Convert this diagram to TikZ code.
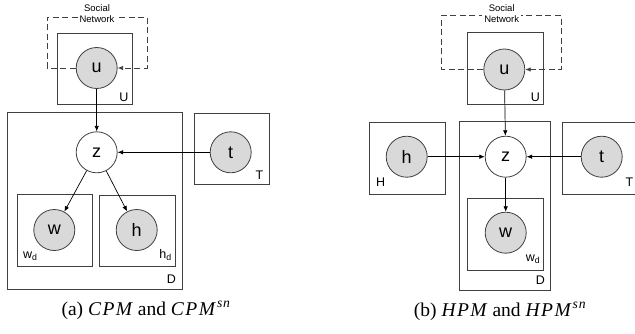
\documentclass[tikz,border=0pt]{standalone}
\usepackage{fontspec}
\setmainfont{Liberation Serif}
\newfontfamily\arialf{Liberation Sans}
\usetikzlibrary{arrows.meta}
\definecolor{lin}{HTML}{404040}
\definecolor{fil}{HTML}{D9D9D9}
\newcommand{\mitx}[1]{\textit{#1}}
\tikzset{
  var/.style={circle, draw=lin, line width=0.8pt, minimum size=41pt, inner sep=0pt,
    font=\arialf\fontsize{18}{18}\selectfont},
  obs/.style={var, fill=fil},
  plate/.style={draw=lin, line width=0.8pt},
  plab/.style={font=\arialf\fontsize{12.5}{12.5}\selectfont, inner sep=0pt},
  conn/.style={draw=black, line width=0.7pt, -{Latex[length=5.5pt,width=4.5pt]}},
  snbox/.style={draw=lin, line width=0.8pt, dash pattern=on 6pt off 3.5pt,
    -{Latex[length=5.5pt,width=4.5pt]}},
  sntext/.style={font=\arialf\fontsize{9.5}{11.5}\selectfont, align=center, fill=white,
    inner xsep=2pt, inner ysep=0pt},
  capt/.style={font=\fontsize{19.5}{19.5}\selectfont, anchor=base, inner sep=0pt}
}
\begin{document}
\begin{tikzpicture}[x=1pt,y=-1pt]
\useasboundingbox (0,0) rectangle (635,333);

% ===================== (a) =====================
\draw[plate] (57.3,33.3) rectangle (132.3,104.3);
\draw[plate] (7.3,112.3) rectangle (182.3,289.3);
\draw[plate] (194,113.3) rectangle (269.3,184.3);
\draw[plate] (17,194.3) rectangle (92.3,266);
\draw[plate] (99.3,195) rectangle (175,266.7);

\node[obs] (ua) at (96.7,68) {u};
\node[var] (za) at (96.7,152.3) {z};
\node[obs] (ta) at (230.7,152.3) {t};
\node[obs] (wa) at (54.3,230) {w};
\node[obs] (ha) at (136.7,230) {h};

\node[plab, anchor=base east] (lUa) at (128.5,101.7) {U};
\node[plab, anchor=base east] (lTa) at (263.5,179.3) {T};
\node[plab, anchor=base east] (lDa) at (176,283.3) {D};
\node[plab, anchor=base west] (lWa) at (23,258) {w\textsubscript{d}};
\node[plab, anchor=base east] (lHa) at (172,258) {h\textsubscript{d}};

\coordinate (sa1) at (47,68);
\coordinate (sa2) at (47,17);
\coordinate (sa3) at (147,17);
\coordinate (sa4) at (147,68);
\draw[snbox] (ua.west) -- (sa1) -- (sa2) -- (sa3) -- (sa4) -- (ua.east);
\node[sntext] (sna) at (97,13.5) {Social\\Network};

\draw[conn] (ua) -- (za);
\draw[conn] (ta) -- (za);
\draw[conn] (za) -- (wa);
\draw[conn] (za) -- (ha);

\node[capt] (capa) at (146,315) {(a) \mitx{C\kern1.5pt P\kern1.5pt M} and \mitx{C\kern1.5pt P\kern1.5pt M}\kern1pt\textsuperscript{\mitx{s\kern0.8pt n}}};

% ===================== (b) =====================
\draw[plate] (467,32.3) rectangle (543.3,104.3);
\draw[plate] (369.3,122.3) rectangle (445.3,194.3);
\draw[plate] (459.3,121) rectangle (550.3,290);
\draw[plate] (640,122.3) -- (562,122.3) -- (562,194.3) -- (640,194.3);
\draw[plate] (467,198.3) rectangle (543.7,270);

\node[obs] (ub) at (504.3,69.5) {u};
\node[var] (zb) at (505.7,156.7) {z};
\node[obs] (hb) at (406.7,156.7) {h};
\node[obs] (tb) at (601.7,156.7) {t};
\node[obs] (wb) at (505.7,232.7) {w};

\node[plab, anchor=base east] (lUb) at (540,101) {U};
\node[plab, anchor=base west] (lHb) at (376,186.7) {H};
\node[plab, anchor=base east] (lTb) at (633.5,186.7) {T};
\node[plab, anchor=base east] (lWb) at (540.5,261.7) {w\textsubscript{d}};
\node[plab, anchor=base east] (lDb) at (545,284) {D};

\coordinate (sb1) at (441.7,69.5);
\coordinate (sb2) at (441.7,15.3);
\coordinate (sb3) at (561,15.3);
\coordinate (sb4) at (561,69.5);
\draw[snbox] (ub.west) -- (sb1) -- (sb2) -- (sb3) -- (sb4) -- (ub.east);
\node[sntext] (snb) at (501.7,13.5) {Social\\Network};

\draw[conn] (ub) -- (zb);
\draw[conn] (hb) -- (zb);
\draw[conn] (tb) -- (zb);
\draw[conn] (zb) -- (wb);

\node[capt] (capb) at (500,316) {(b) \mitx{H\kern1.5pt P\kern1.5pt M} and \mitx{H\kern1.5pt P\kern1.5pt M}\kern1pt\textsuperscript{\mitx{s\kern0.8pt n}}};
\end{tikzpicture}
\end{document}
